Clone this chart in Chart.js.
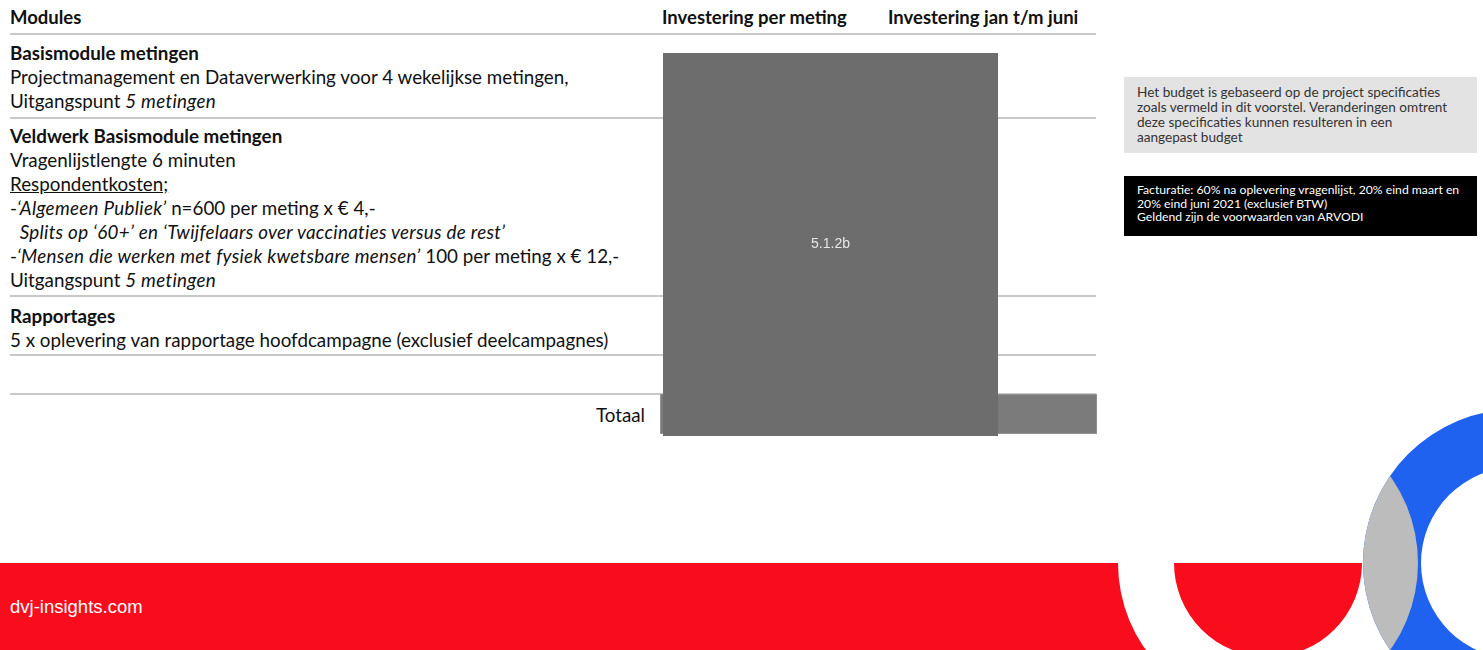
<!DOCTYPE html>
<html lang="nl">
<head>
<meta charset="utf-8">
<title>Modules – investering</title>
<script src="https://cdn.jsdelivr.net/npm/chart.js@4.4.1/dist/chart.umd.min.js"></script>
<style>
  html, body {
    margin: 0;
    width: 1483px;
    height: 650px;
    overflow: hidden;
    background: #fff;
  }
  body {
    position: relative;
    font-family: Lato, "Open Sans", sans-serif;
    color: #111;
  }
  .line { position: absolute; left: 10px; line-height: 24px; font-size: 18.8px; white-space: nowrap; }
  .line.b { font-weight: bold; }
  .line i { letter-spacing: 0.3px; }
  .head { position: absolute; top: 5px; line-height: 24px; font-size: 18.5px; font-weight: bold; white-space: nowrap; }
  .rule { position: absolute; left: 10px; width: 1086px; height: 2px; background: #c8c8c8; }
  .note { position: absolute; left: 1124px; width: 353px; box-sizing: border-box; padding-left: 13px; white-space: nowrap; }
  .note.grey { top: 77px; height: 76px; background: #e3e3e3; color: #333; font-size: 13.6px; line-height: 15px; padding-top: 8px; }
  .note.black { top: 176px; height: 60px; background: #000; color: #fff; font-size: 12.2px; line-height: 13.5px; padding-top: 7px; }
  .footer { position: absolute; left: 0; top: 563px; width: 1268px; height: 87px; background: #f90c1b; }
  .url { position: absolute; left: 10px; top: 596px; font-family: "Liberation Sans", Arial, sans-serif; font-size: 18.5px; color: #fff; }
  canvas { position: absolute; }
</style>
</head>
<body>

<div class="head" style="left:10px">Modules</div>
<div class="head" style="left:662px">Investering per meting</div>
<div class="head" style="left:888px">Investering jan t/m juni</div>

<div class="rule" style="top:33px"></div>
<div class="rule" style="top:117px"></div>
<div class="rule" style="top:295px"></div>
<div class="rule" style="top:354px"></div>
<div class="rule" style="top:393px"></div>

<div id="rows"></div>

<div class="line" style="left:auto; right:838px; top:403px">Totaal</div>

<div class="note grey">Het budget is gebaseerd op de project specificaties<br>zoals vermeld in dit voorstel. Veranderingen omtrent<br>deze specificaties kunnen resulteren in een<br>aangepast budget</div>
<div class="note black">Facturatie: 60% na oplevering vragenlijst, 20% eind maart en<br>20% eind juni 2021 (exclusief BTW)<br>Geldend zijn de voorwaarden van ARVODI</div>

<div class="footer"></div>
<div class="url">dvj-insights.com</div>

<canvas id="totaalChart" width="437" height="40" style="left:660px; top:394px"></canvas>
<canvas id="redactChart" width="335" height="383" style="left:663px; top:53px"></canvas>

<canvas id="ringBase" width="300" height="300" style="left:1118px; top:413px"></canvas>
<canvas id="halfDisc" width="188" height="188" style="left:1174px; top:469px"></canvas>
<canvas id="blueRing" width="308" height="308" style="left:1363px; top:409px"></canvas>
<canvas id="greyLens" width="308" height="308" style="left:1363px; top:409px; clip-path: circle(150px at -95px 154px)"></canvas>

<script>
// table rows: [text html, centre y, bold]
const moduleLines = [
  ['Basismodule metingen', 53, true],
  ['Projectmanagement en Dataverwerking voor 4 wekelijkse metingen,', 77, false],
  ['Uitgangspunt <i>5 metingen</i>', 101, false],
  ['Veldwerk Basismodule metingen', 136, true],
  ['Vragenlijstlengte 6 minuten', 160, false],
  ['<u>Respondentkosten;</u>', 184, false],
  ['-<i>‘Algemeen Publiek’</i> n=600 per meting x € 4,-', 208, false],
  ['&nbsp;&nbsp;<i>Splits op ‘60+’ en ‘Twijfelaars over vaccinaties versus de rest’</i>', 232, false],
  ['-<i>‘Mensen die werken met fysiek kwetsbare mensen’</i> 100 per meting x € 12,-', 256, false],
  ['Uitgangspunt <i>5 metingen</i>', 280, false],
  ['Rapportages', 316, true],
  ['5 x oplevering van rapportage hoofdcampagne (exclusief deelcampagnes)', 340, false]
];

// value columns (share of the two investment columns, in %)
const totaalLabels = ['Totaal'];
const totaalSpan = [[0, 100]];
const redactLabels = ['5.1.2b'];
const redactSpan = [[0, 100]];

// logo shapes
const ringBaseValues = [1];
const halfDiscValues = [1, 1];
const blueRingValues = [1];

const rowsEl = document.getElementById('rows');
moduleLines.forEach(([html, y, bold]) => {
  const d = document.createElement('div');
  d.className = bold ? 'line b' : 'line';
  d.style.top = (y - 12) + 'px';
  d.innerHTML = html;
  rowsEl.appendChild(d);
});

const baseOptions = {
  responsive: false,
  animation: false,
  events: [],
  layout: { padding: 0 },
  plugins: { legend: { display: false }, tooltip: { enabled: false } }
};

function barOptions() {
  return Object.assign({}, baseOptions, {
    indexAxis: 'y',
    scales: {
      x: { min: 0, max: 100, display: false },
      y: { display: false }
    }
  });
}

new Chart(document.getElementById('totaalChart'), {
  type: 'bar',
  data: {
    labels: totaalLabels,
    datasets: [{
      data: totaalSpan,
      backgroundColor: '#7b7b7b',
      borderColor: '#9c9c9c',
      borderWidth: 1,
      borderSkipped: false,
      barPercentage: 1,
      categoryPercentage: 1
    }]
  },
  options: barOptions()
});

const centreLabel = {
  id: 'centreLabel',
  afterDatasetsDraw(chart) {
    const bar = chart.getDatasetMeta(0).data[0];
    const ctx = chart.ctx;
    ctx.save();
    ctx.fillStyle = '#e6e6e6';
    ctx.font = '14px "Liberation Sans", Arial, sans-serif';
    ctx.textAlign = 'center';
    ctx.textBaseline = 'middle';
    ctx.fillText(chart.data.labels[0], (bar.x + bar.base) / 2, bar.y);
    ctx.restore();
  }
};

new Chart(document.getElementById('redactChart'), {
  type: 'bar',
  data: {
    labels: redactLabels,
    datasets: [{
      data: redactSpan,
      backgroundColor: '#6d6d6d',
      borderWidth: 0,
      barPercentage: 1,
      categoryPercentage: 1
    }]
  },
  options: barOptions(),
  plugins: [centreLabel]
});

function ring(id, values, colors, cutout, rotation) {
  return new Chart(document.getElementById(id), {
    type: 'doughnut',
    data: { datasets: [{ data: values, backgroundColor: colors, borderWidth: 0 }] },
    options: Object.assign({}, baseOptions, { cutout: cutout, rotation: rotation || 0 })
  });
}

ring('ringBase', ringBaseValues, ['#ffffff'], 0);
ring('halfDisc', halfDiscValues, ['#f90c1b', 'rgba(0,0,0,0)'], 0, 90);
ring('blueRing', blueRingValues, ['#1f62ef'], 96);
ring('greyLens', blueRingValues, ['#bcbcbc'], 96);
</script>
</body>
</html>
